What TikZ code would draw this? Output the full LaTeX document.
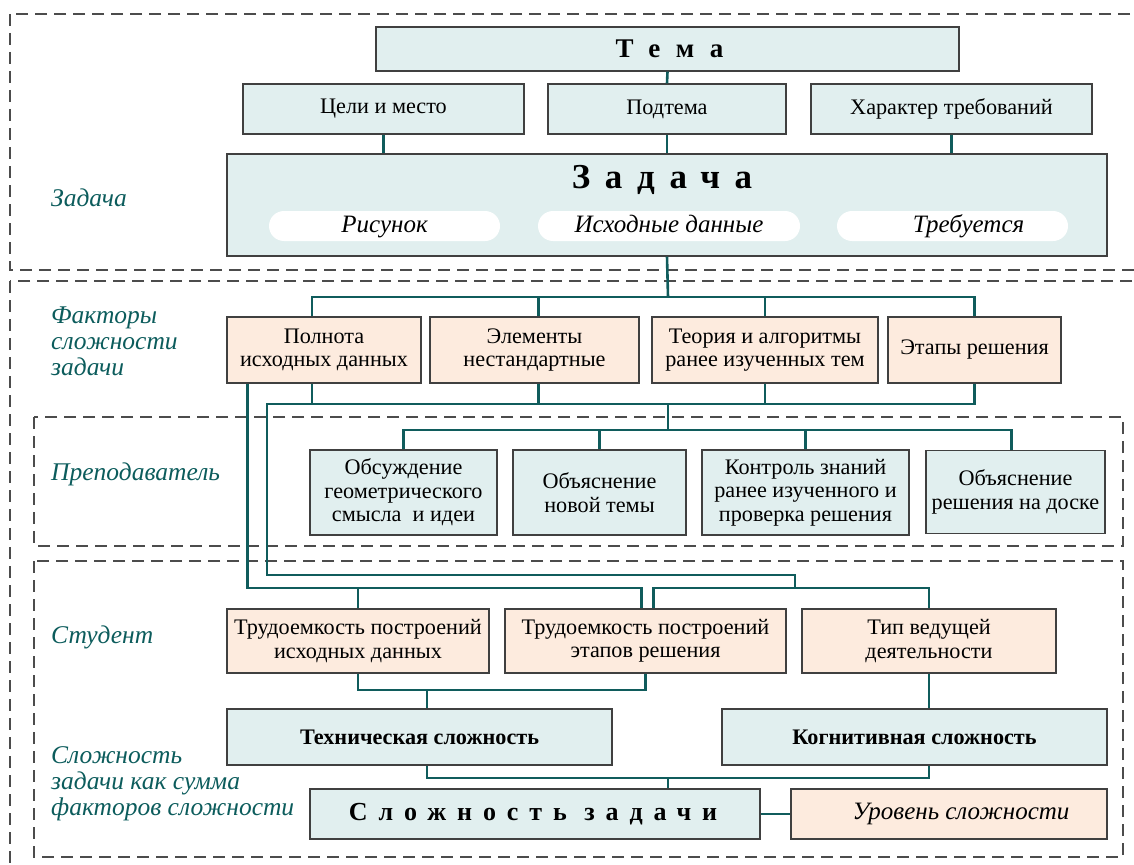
\documentclass[tikz,border=0pt]{standalone}
\usepackage{fontspec}
\setmainfont{Liberation Serif}
\newfontfamily\widefont[LetterSpace=58]{Liberation Serif}
\newfontfamily\spacedfont[LetterSpace=42]{Liberation Serif}
\usepackage{tikz}
\usetikzlibrary{positioning}
\definecolor{boxblue}{RGB}{225,239,239}
\definecolor{boxpeach}{RGB}{253,235,222}
\definecolor{linkteal}{RGB}{16,92,92}
\definecolor{labelteal}{RGB}{12,92,92}
\definecolor{rimgray}{RGB}{64,64,64}

\begin{document}
\begin{tikzpicture}[x=1pt,y=-1pt,
    box/.style={draw=rimgray,line width=1.2pt,fill=boxblue,align=center,inner sep=0pt,font=\fontsize{22.2}{23.5}\selectfont},
    factor/.style={box,fill=boxpeach},
    pill/.style={fill=white,rounded corners=15pt,inner sep=0pt,minimum height=30pt,text height=17pt,text depth=5pt,font=\fontsize{25}{26}\selectfont\itshape},
    link/.style={draw=linkteal,line width=2.6pt},
    frame/.style={draw=black!70,line width=1.3pt,dash pattern=on 12pt off 7pt},
    side/.style={text=labelteal,font=\fontsize{25.5}{26}\selectfont\itshape,align=left,anchor=west,inner sep=0pt}]
    \useasboundingbox (0,0) rectangle (1134,864);

    \begin{scope}
        \clip (0,0) rectangle (1134,864);
        \draw[frame] (10,14) rectangle (1150,270);
        \draw[frame] (10,281) rectangle (1150,880);
        \draw[frame] (34,417) rectangle (1123,546);
        \draw[frame] (34,561) rectangle (1123,857);
    \end{scope}

    \node[side] (lblZ) at (51,198) {Задача};
    \node[side] (lblF) at (51,341) {Факторы\\сложности\\задачи};
    \node[side] (lblP) at (51,474) {Преподаватель};
    \node[side] (lblS) at (51,637) {Студент};
    \node[side] (lblC) at (51,784) {Сложность\\задачи как сумма\\факторов сложности};

    \node[box,minimum width=583pt,minimum height=44pt,font=\fontsize{27}{28}\selectfont\widefont\bfseries] (tema) at (667.5,49) {\hspace*{4pt}Тема};
    \node[box,minimum width=281pt,minimum height=50pt] (celi) at (383.5,109) {Цели и место};
    \node[box,minimum width=238pt,minimum height=50pt] (podtema) at (667,109) {Подтема};
    \node[box,minimum width=281pt,minimum height=50pt] (harakter) at (951.5,109) {Характер требований};

    \node[box,minimum width=880pt,minimum height=102pt] (zadacha) at (667,205) {};
    \node[font=\fontsize{35}{36}\selectfont\spacedfont\bfseries] (zadachaT) at (662,180) {Задача};
    \node[pill,minimum width=231pt] (risunok) at (384.5,226) {Рисунок};
    \node[pill,minimum width=262pt] (ishod) at (669,226) {Исходные данные};
    \node[pill,minimum width=231pt] (treb) at (952.5,226) {\hspace*{32pt}Требуется};

    \node[factor,minimum width=194pt,minimum height=66pt] (polnota) at (324,350) {Полнота\\исходных данных};
    \node[factor,minimum width=209pt,minimum height=66pt] (elem) at (534.5,350) {Элементы\\нестандартные};
    \node[factor,minimum width=226pt,minimum height=66pt] (teoria) at (765,350) {Теория и алгоритмы\\ранее изученных тем};
    \node[factor,minimum width=173pt,minimum height=66pt] (etapy) at (974.5,350) {Этапы решения};

    \node[box,minimum width=187pt,minimum height=85pt] (obsuzh) at (403.5,492.5) {Обсуждение\\геометрического\\смысла~~и идеи};
    \node[box,minimum width=173pt,minimum height=85pt] (obyasn1) at (599.5,492.5) {Объяснение\\новой темы};
    \node[box,minimum width=207pt,minimum height=85pt] (kontrol) at (805.5,492.5) {Контроль знаний\\ранее изученного и\\проверка решения};
    \node[box,minimum width=179pt,minimum height=83pt] (obyasn2) at (1015.5,492) {Объяснение\\решения на доске};

    \node[factor,minimum width=262pt,minimum height=64pt] (trud1) at (358,641) {Трудоемкость построений\\исходных данных};
    \node[factor,minimum width=281pt,minimum height=64pt] (trud2) at (645.5,641) {Трудоемкость построений\\этапов решения};
    \node[factor,minimum width=254pt,minimum height=64pt] (tip) at (929,641) {Тип ведущей\\деятельности};

    \node[box,minimum width=385pt,minimum height=56pt,font=\fontsize{22.2}{23}\selectfont\bfseries] (tech) at (419.5,737) {Техническая сложность};
    \node[box,minimum width=385pt,minimum height=56pt,font=\fontsize{22.2}{23}\selectfont\bfseries] (kogn) at (914.5,737) {Когнитивная сложность};
    \node[box,minimum width=450pt,minimum height=50pt,font=\fontsize{26}{28}\selectfont\spacedfont\bfseries] (slozh) at (535,814) {\hspace*{-4pt}Сложность задачи};
    \node[factor,minimum width=316pt,minimum height=50pt,font=\fontsize{25}{26}\selectfont\itshape] (uroven) at (949,814) {\hspace*{24pt}Уровень сложности};

    \coordinate (top) at (668,297);
    \coordinate (low) at (668,404);
    \coordinate (lowL) at (267,404);
    \coordinate (mid) at (668,430);
    \coordinate (cross) at (795,575);
    \coordinate (split) at (795,588);
    \coordinate (lead) at (358,588);
    \coordinate (techjoin) at (427,690);
    \coordinate (sumjoin) at (668,778);

    \draw[link] (tema.south) -- (podtema.north);
    \draw[link] (celi.south) -- (celi.south |- zadacha.north);
    \draw[link] (podtema.south) -- (podtema.south |- zadacha.north);
    \draw[link] (harakter.south) -- (harakter.south |- zadacha.north);

    \draw[link] (zadacha.south) -- (top);
    \draw[link] ([xshift=-12pt]polnota.north) |- (top) -| (etapy.north);
    \draw[link] ([xshift=4pt]elem.north) -- ([xshift=4pt]elem.north |- top);
    \draw[link] (teoria.north) -- (teoria.north |- top);

    \draw[link] ([xshift=-12pt]polnota.south) -- ([xshift=-12pt]polnota.south |- low);
    \draw[link] ([xshift=4pt]elem.south) -- ([xshift=4pt]elem.south |- low);
    \draw[link] (teoria.south) -- (teoria.south |- low);
    \draw[link] (etapy.south) |- (lowL) |- (cross) -- (split);

    \draw[link] (low) -- (mid);
    \draw[link] (obsuzh.north) |- (mid) -| ([xshift=-4pt]obyasn2.north);
    \draw[link] (obyasn1.north) -- (obyasn1.north |- mid);
    \draw[link] (kontrol.north) -- (kontrol.north |- mid);

    \draw[link] ([xshift=21pt]polnota.south west) |- (lead) -| ([xshift=-4pt]trud2.north);
    \draw[link] (trud1.north) -- (lead);
    \draw[link] ([xshift=8pt]trud2.north) |- (split) -| (tip.north);

    \draw[link] (trud1.south) |- (techjoin) -| (trud2.south);
    \draw[link] (techjoin) -- (techjoin |- tech.north);
    \draw[link] (tip.south) -- (tip.south |- kogn.north);
    \draw[link] ([xshift=7.5pt]tech.south) |- (sumjoin) -| (tip.south |- kogn.south);
    \draw[link] (sumjoin) -- (sumjoin |- slozh.north);
    \draw[link] (slozh.east) -- (uroven.west);
\end{tikzpicture}
\end{document}
